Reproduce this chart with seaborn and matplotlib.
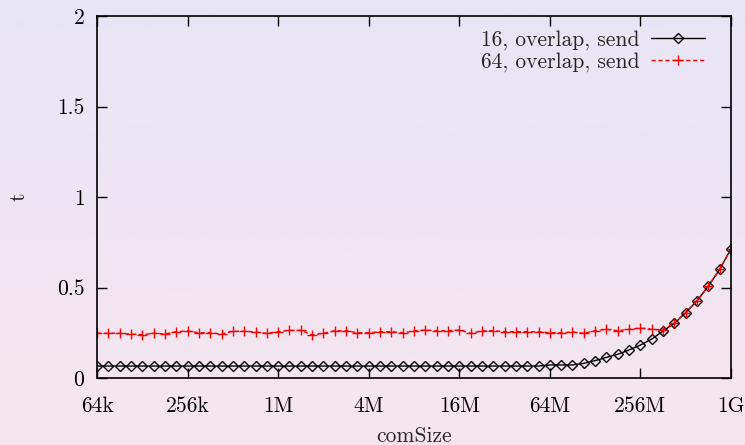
import numpy as np
import pandas as pd
import matplotlib
matplotlib.use("Agg")
import matplotlib.pyplot as plt
import seaborn as sns

# ---- data ----
size_exp = np.arange(16, 30.001, 0.25)          # log2 of comSize, 4 samples per octave
t_16 = [0.066] * 40 + [0.072, 0.072, 0.072, 0.081, 0.096, 0.114, 0.131, 0.155,
                       0.182, 0.215, 0.260, 0.302, 0.361, 0.427, 0.508, 0.600, 0.714]
t_64 = [0.247, 0.247, 0.247, 0.243, 0.239, 0.247, 0.243, 0.256, 0.260, 0.250,
        0.250, 0.243, 0.258, 0.258, 0.254, 0.247, 0.256, 0.263, 0.263, 0.238,
        0.247, 0.261, 0.261, 0.250, 0.250, 0.256, 0.256, 0.250, 0.260, 0.265,
        0.261, 0.261, 0.265, 0.247, 0.260, 0.261, 0.256, 0.256, 0.256, 0.256,
        0.250, 0.250, 0.254, 0.247, 0.261, 0.269, 0.261, 0.269, 0.276, 0.269,
        0.265, 0.306, 0.361, 0.427, 0.508, 0.600, 0.714]
series_names = ["16, overlap, send", "64, overlap, send"]
xtick_exp = [16, 18, 20, 22, 24, 26, 28, 30]
xtick_labels = ["64k", "256k", "1M", "4M", "16M", "64M", "256M", "1G"]
yticks = [0, 0.5, 1, 1.5, 2]
ytick_labels = ["0", "0.5", "1", "1.5", "2"]

sizes = 2.0 ** size_exp
df = pd.DataFrame({
    "comSize": np.concatenate([sizes, sizes]),
    "t": np.concatenate([t_16, t_64]),
    "series": [series_names[0]] * len(sizes) + [series_names[1]] * len(sizes),
})

sns.set_theme(style="ticks")
plt.rcParams["font.family"] = ["cmr10", "DejaVu Serif"]
plt.rcParams["axes.formatter.use_mathtext"] = True
FS = 15.5

fig = plt.figure(figsize=(7.45, 4.45), dpi=100)

# gradient background
bg = fig.add_axes([0, 0, 1, 1], zorder=-10)
grad = np.linspace(0, 1, 256)[:, None]
top = np.array([232, 229, 247]) / 255
bot = np.array([247, 229, 238]) / 255
img = top[None, None, :] * (1 - grad[:, :, None]) + bot[None, None, :] * grad[:, :, None]
bg.imshow(img, aspect="auto", extent=[0, 1, 0, 1])
bg.set_axis_off()

ax = fig.add_axes([97 / 745, 1 - 378 / 445, (731 - 97) / 745, (378 - 16) / 445])
ax.set_facecolor("none")

sns.lineplot(data=df[df.series == series_names[0]], x="comSize", y="t", ax=ax,
             color="black", linewidth=1.0, marker="D", markersize=5.5,
             markerfacecolor="none", markeredgecolor="black", markeredgewidth=1.0,
             label=series_names[0])
sns.lineplot(data=df[df.series == series_names[1]], x="comSize", y="t", ax=ax,
             color="red", linewidth=1.0, linestyle=(0, (3, 2)), marker="+",
             markersize=7.5, markeredgewidth=1.0, markeredgecolor="red",
             label=series_names[1])

ax.set_xscale("log", base=2)
ax.set_xlim(2.0 ** 16, 2.0 ** 30)
ax.set_ylim(0, 2)
ax.set_xticks([2.0 ** e for e in xtick_exp])
ax.set_xticklabels(xtick_labels)
ax.xaxis.set_minor_locator(matplotlib.ticker.NullLocator())
ax.set_yticks(yticks)
ax.set_yticklabels(ytick_labels)
ax.tick_params(axis="both", which="major", direction="in", length=7, width=1.0,
               top=True, right=True, labelsize=FS, colors="black")
ax.tick_params(axis="x", pad=13)
ax.tick_params(axis="y", pad=9)
for s in ax.spines.values():
    s.set_linewidth(1.2)
    s.set_color("black")
    s.set_visible(True)

ax.set_xlabel("comSize", fontsize=FS)
ax.set_ylabel("t", fontsize=FS)
ax.xaxis.set_label_coords(0.5, -0.135)
ax.yaxis.set_label_coords(-0.108, 0.5)

leg = ax.legend(loc="upper right", bbox_to_anchor=(0.973, 0.985), frameon=False,
                markerfirst=False, fontsize=FS, handlelength=2.5, handletextpad=0.55,
                borderaxespad=0.0, labelspacing=0.08, numpoints=1)

fig.savefig("out.png", dpi=100)
